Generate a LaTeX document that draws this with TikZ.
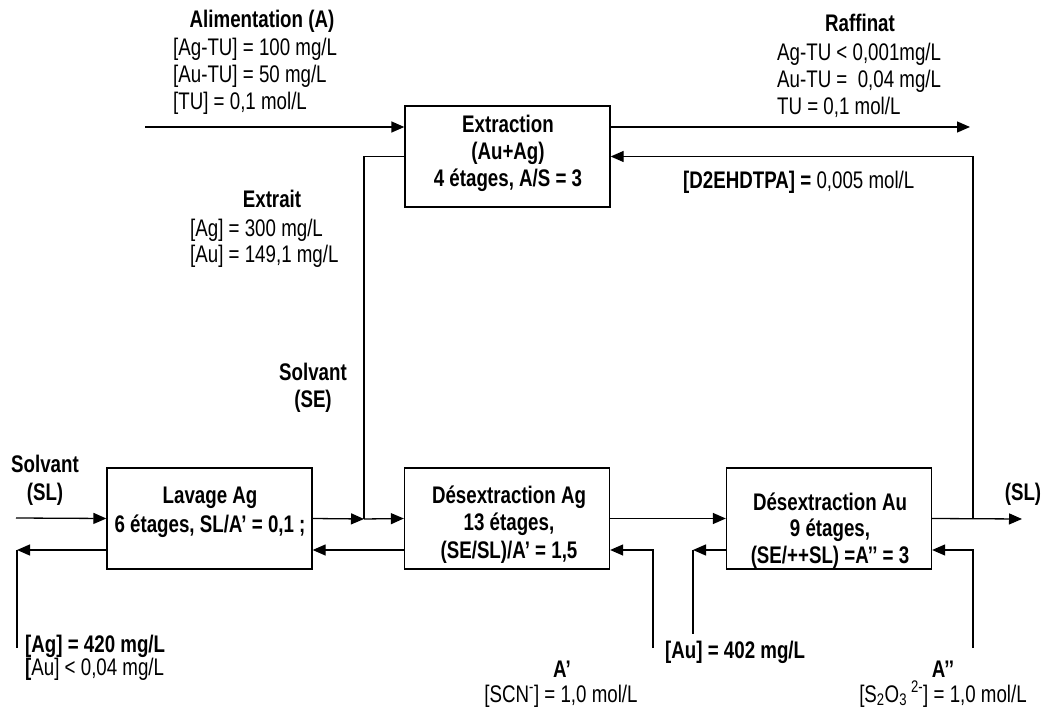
\documentclass[tikz,border=0pt]{standalone}
\usepackage{fontspec}
\setmainfont{Liberation Sans}[FakeStretch=0.78]
\usetikzlibrary{arrows.meta}

\tikzset{
 box/.style={draw, line width=1.3pt, minimum width=205pt, minimum height=101pt, inner sep=0pt},
 flow/.style={line width=1.3pt, >={Triangle[length=13pt,width=11pt]}},
 txt/.style={inner sep=0pt, align=left, anchor=base west, font=\fontsize{24}{27.3}\selectfont},
 ctxt/.style={inner sep=0pt, align=center, anchor=base, font=\fontsize{24}{27.3}\selectfont\bfseries},
}

\begin{document}
\begin{tikzpicture}[x=1pt,y=-1pt]
\useasboundingbox (0,0) rectangle (1045,711);
% boites
\node[box] (ext) at (507.5,156.5) {};
\node[box] (lav) at (209.5,518.5) {};
\node[box] (dag) at (507,518.5) {};
\node[box] (dau) at (829,518.5) {};
\node[ctxt] (exttxt) at (508,187) {Extraction\\(Au+Ag)\\4 étages, A/S = 3};
\node[ctxt,font=\fontsize{24}{29}\selectfont\bfseries] (lavtxt) at (210,532) {Lavage Ag\\6 étages, SL/A’ = 0,1 ;};
\node[ctxt] (dagtxt) at (509,558) {Désextraction Ag\\13 étages,\\(SE/SL)/A’ = 1,5};
\node[ctxt,font=\fontsize{24}{26.5}\selectfont\bfseries] (dautxt) at (830,563) {Désextraction Au\\9 étages,\\(SE/++SL) =A’’ = 3};

% points libres
\coordinate (alim) at (145,127);
\coordinate (raff) at (970,127);
\coordinate (jl) at (364,519);
\coordinate (jr) at (973,519);
\coordinate (slin) at (16,518);
\coordinate (slout) at (1022,519);
\coordinate (agc) at (17,550);
\coordinate (agend) at (17,648);
\coordinate (apc) at (653,550);
\coordinate (apend) at (653,648);
\coordinate (auc) at (693,550);
\coordinate (auend) at (693,634);
\coordinate (appc) at (973,550);
\coordinate (append) at (973,648);

% flux
\draw[flow,->] (alim) -- (alim-|ext.west);
\draw[flow,->] (raff-|ext.east) -- (raff);
\draw[flow,->] (jr) |- (ext.east);
\draw[flow] (ext.west) -| (jl);
\draw[flow,->] (jl) -- (dag.west);
\draw[flow,->] (lav.east) -- (jl);
\draw[flow,->] (slin) -- (lav.west);
\draw[flow,->] (lav.west|-agc) -- (agc);
\draw[flow] (agc) -- (agend);
\draw[flow,->] (dag.west|-agc) -- (lav.east|-agc);
\draw[flow,->] (dag.east) -- (dau.west);
\draw[flow,->] (apend) |- (dag.east|-apc);
\draw[flow,->] (dau.west|-auc) -- (auc);
\draw[flow] (auc) -- (auend);
\draw[flow,->] (append) |- (dau.east|-appc);
\draw[flow,->] (dau.east) -- (slout);

% etiquettes
\node[ctxt] (alimtit) at (262,28) {Alimentation (A)};
\node[txt] (alimtxt) at (173,110) {[Ag-TU] = 100 mg/L\\{}[Au-TU] = 50 mg/L\\{}[TU] = 0,1 mol/L};
\node[ctxt] (raftit) at (860,32) {Raffinat};
\node[txt] (raftxt) at (777,115) {Ag-TU < 0,001mg/L\\Au-TU =\ \ 0,04 mg/L\\TU = 0,1 mol/L};
\node[txt] (d2eh) at (683,189) {\textbf{[D2EHDTPA] =} 0,005 mol/L};
\node[ctxt] (extrtit) at (272,208) {Extrait};
\node[txt,font=\fontsize{24}{26.5}\selectfont] (extrtxt) at (190,263) {[Ag] = 300 mg/L\\{}[Au] = 149,1 mg/L};
\node[ctxt,font=\fontsize{24}{28}\selectfont\bfseries] (setxt) at (313,408) {Solvant\\(SE)};
\node[ctxt,font=\fontsize{24}{28}\selectfont\bfseries] (sltxt) at (45,500) {Solvant\\(SL)};
\node[ctxt] (slouttxt) at (1023,500) {(SL)};
\node[txt,font=\fontsize{24}{23}\selectfont] (agtxt) at (25,675) {\textbf{[Ag] = 420 mg/L}\\\textbf{[}Au] < 0,04 mg/L};
\node[txt,font=\fontsize{24}{27.3}\selectfont\bfseries] (autxt) at (665,658) {[Au] = 402 mg/L};
\node[ctxt] (aptit) at (562,677) {A’};
\node[ctxt,font=\fontsize{24}{27.3}\selectfont] (aptxt) at (561,702) {[SCN\textsuperscript{-}] = 1,0 mol/L};
\node[ctxt] (apptit) at (943,677) {A’’};
\node[ctxt,font=\fontsize{24}{27.3}\selectfont] (apptxt) at (943,702) {[S\textsubscript{2}O\textsubscript{3}\,\textsuperscript{2-}] = 1,0 mol/L};
\end{tikzpicture}
\end{document}
